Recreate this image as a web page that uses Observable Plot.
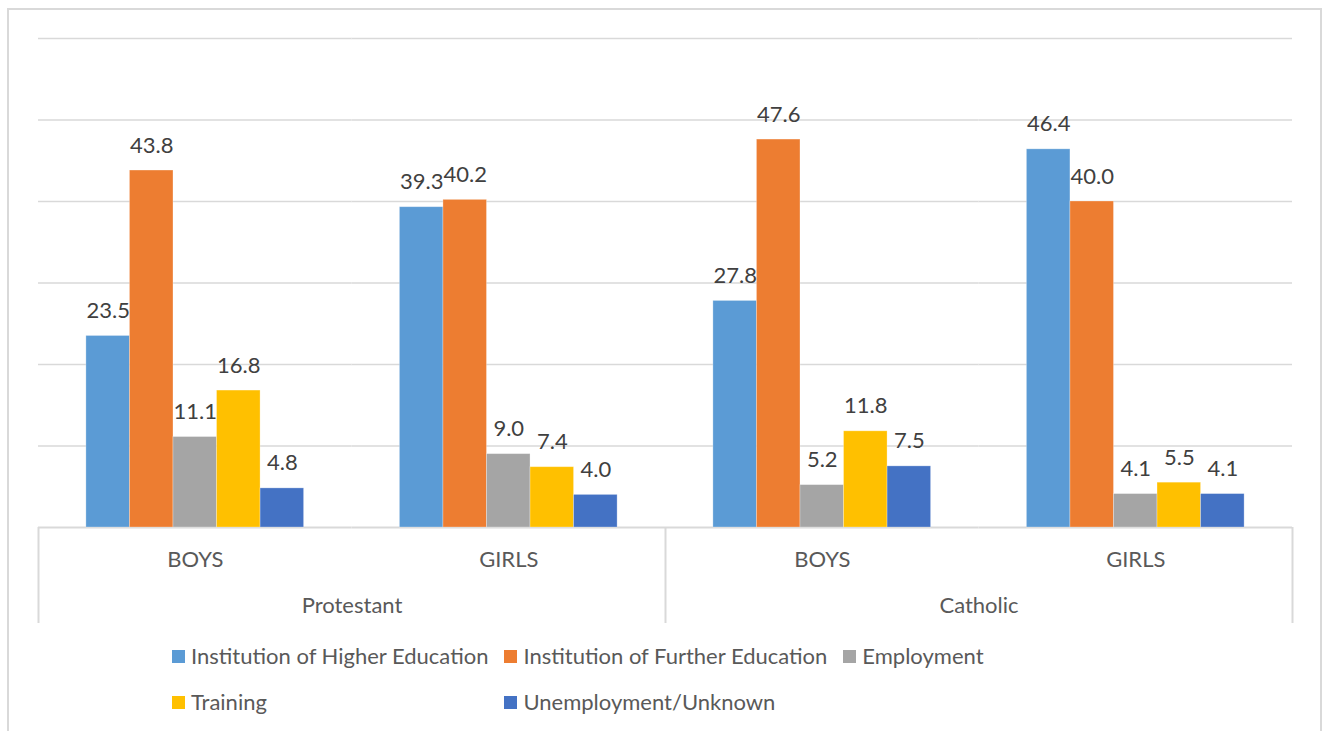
<!DOCTYPE html>
<html>
<head>
<meta charset="utf-8">
<script src="https://cdn.jsdelivr.net/npm/d3@7"></script>
<script src="https://cdn.jsdelivr.net/npm/@observablehq/plot@0.6"></script>
<style>
  html, body { margin: 0; padding: 0; background: #fff; width: 1323px; height: 731px; overflow: hidden; font-family: Lato, "Open Sans", sans-serif; }
  #frame { position: absolute; left: 7px; top: 8px; width: 1315px; height: 760px; border: 2px solid #d9d9d9; box-sizing: border-box; }
  #main { position: absolute; left: 0; top: 0; }
  #axis { position: absolute; left: 0; top: 527px; }
  #legend { position: absolute; left: 172px; top: 642px; display: grid; grid-template-columns: auto auto auto; column-gap: 16px; row-gap: 18px; color: #595959; font-size: 22px; }
  .item { display: flex; align-items: center; white-space: nowrap; line-height: 28px; }
  .sw { width: 13px; height: 13px; margin-right: 6px; flex: none; }
</style>
</head>
<body>
<div id="frame"></div>
<div id="main"></div>
<div id="axis"></div>
<div id="legend"></div>
<script>
const religions = ["Protestant", "Catholic"];
const sexes = ["BOYS", "GIRLS"];
const series = ["Institution of Higher Education", "Institution of Further Education", "Employment", "Training", "Unemployment/Unknown"];
const colors = ["#5B9BD5", "#ED7D31", "#A5A5A5", "#FFC000", "#4472C4"];
// values per group: Protestant BOYS, Protestant GIRLS, Catholic BOYS, Catholic GIRLS
const higherEducation = [23.5, 39.3, 27.8, 46.4];
const furtherEducation = [43.8, 40.2, 47.6, 40.0];
const employment = [11.1, 9.0, 5.2, 4.1];
const training = [16.8, 7.4, 11.8, 5.5];
const unemployment = [4.8, 4.0, 7.5, 4.1];
const yTicks = [10, 20, 30, 40, 50, 60];

const seriesValues = [higherEducation, furtherEducation, employment, training, unemployment];
const groups = [];
religions.forEach(r => sexes.forEach(s => groups.push({key: r + "|" + s, religion: r, sex: s})));
const rows = [];
groups.forEach((g, gi) => series.forEach((name, si) => rows.push({group: g.key, religion: g.religion, sex: g.sex, series: name, value: seriesValues[si][gi]})));

const W = 1323;
const FONT = "Lato, 'Open Sans', sans-serif";
const main = Plot.plot({
  width: W, height: 540,
  marginTop: 38, marginBottom: 13, marginLeft: 38, marginRight: 31,
  facet: {data: rows, x: "group"},
  fx: {domain: groups.map(g => g.key), padding: 0, round: false, axis: null},
  x: {domain: series, paddingInner: 0, paddingOuter: 1.1, round: false, axis: null},
  y: {domain: [0, 60], axis: null},
  color: {domain: series, range: colors},
  style: {fontFamily: FONT, background: "transparent"},
  marks: [
    Plot.ruleY(yTicks, {stroke: "#d9d9d9", strokeWidth: 1.5}),
    Plot.ruleY([0], {stroke: "#d9d9d9", strokeWidth: 2}),
    Plot.barY(rows, {x: "series", y: "value", fill: "series", stroke: "#ffffff", strokeOpacity: 0.35, strokeWidth: 0.8}),
    Plot.text(rows, {x: "series", y: "value", text: d => d.value.toFixed(1), dy: -18, lineAnchor: "bottom", fill: "#404040", fontSize: 22})
  ]
});
document.getElementById("main").appendChild(main);

// lower category axis (sex row and religion row)
const sexLabels = groups.map((g, i) => ({pos: i + 0.5, label: g.sex}));
const relLabels = religions.map((r, i) => ({pos: i * sexes.length + sexes.length / 2, label: r}));
const boundaries = d3.range(religions.length + 1).map(i => i * sexes.length);
const axis = Plot.plot({
  width: W, height: 96,
  marginTop: 0, marginBottom: 0, marginLeft: 38, marginRight: 31,
  x: {domain: [0, groups.length], axis: null},
  y: {domain: [0, 1], axis: null},
  style: {fontFamily: FONT, background: "transparent"},
  marks: [
    Plot.ruleX(boundaries, {stroke: "#d9d9d9", strokeWidth: 2}),
    Plot.text(sexLabels, {x: "pos", text: "label", frameAnchor: "top", dy: 32, lineAnchor: "middle", fill: "#595959", fontSize: 22}),
    Plot.text(relLabels, {x: "pos", text: "label", frameAnchor: "top", dy: 78, lineAnchor: "middle", fill: "#595959", fontSize: 22})
  ]
});
document.getElementById("axis").appendChild(axis);

const legend = document.getElementById("legend");
series.forEach((name, i) => {
  const it = document.createElement("div");
  it.className = "item";
  const sw = document.createElement("span");
  sw.className = "sw";
  sw.style.background = colors[i];
  it.appendChild(sw);
  it.appendChild(document.createTextNode(name));
  legend.appendChild(it);
});
</script>
</body>
</html>
